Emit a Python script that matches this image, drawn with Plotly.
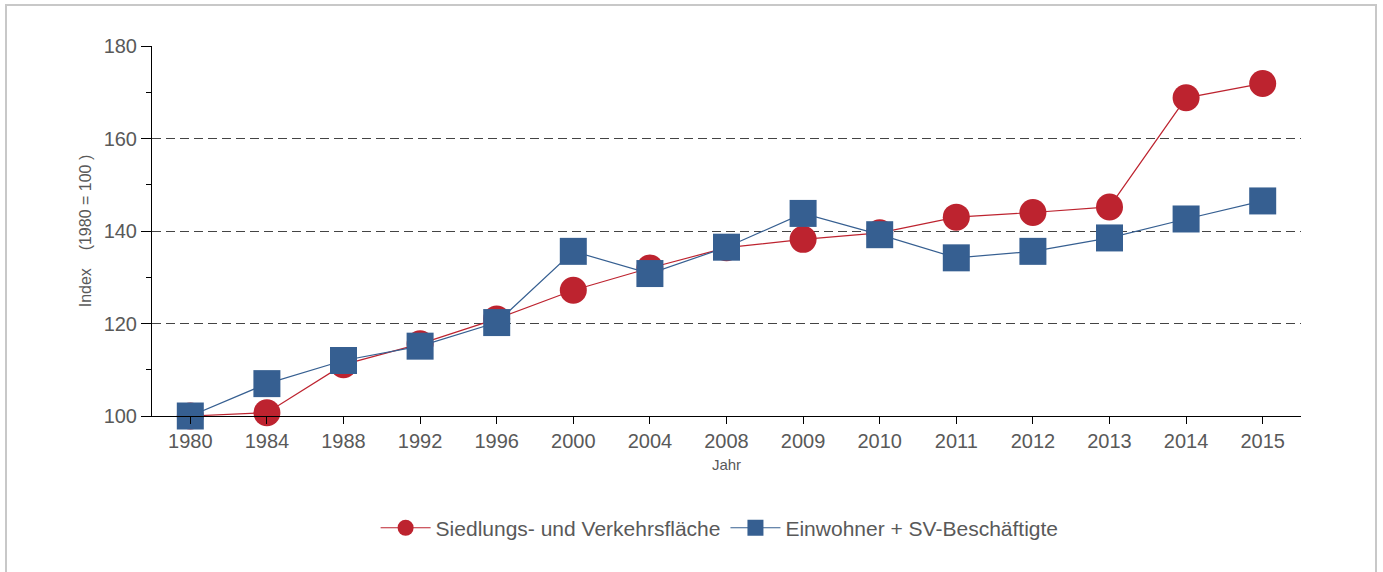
import plotly.graph_objects as go

# ---- data ----
years = ["1980", "1984", "1988", "1992", "1996", "2000", "2004", "2008",
         "2009", "2010", "2011", "2012", "2013", "2014", "2015"]
siedlung = [100.0, 100.7, 111.1, 115.6, 121.0, 127.2, 132.0, 136.4,
            138.2, 139.6, 143.0, 144.0, 145.2, 168.8, 171.9]
einwohner = [100.0, 107.0, 112.0, 115.1, 120.2, 135.6, 130.8, 136.5,
             143.8, 139.2, 134.2, 135.6, 138.5, 142.6, 146.5]
series_names = ["Siedlungs- und Verkehrsfläche", "Einwohner + SV-Beschäftigte"]
y_range = [100, 180]

RED = "#BD232F"
BLUE = "#365F91"
TXT = "#595959"
FONT = "Liberation Sans, Arial, sans-serif"

n = len(years)
x_range = [-0.5, n - 0.5]

fig = go.Figure()
fig.add_trace(go.Scatter(
    x=years, y=siedlung, mode="lines+markers", name=series_names[0],
    line=dict(color=RED, width=1.2),
    marker=dict(symbol="circle", size=27, color=RED, line=dict(width=0)),
    cliponaxis=False,
))
fig.add_trace(go.Scatter(
    x=years, y=einwohner, mode="lines+markers", name=series_names[1],
    line=dict(color=BLUE, width=1.2),
    marker=dict(symbol="square", size=27, color=BLUE, line=dict(width=0)),
    cliponaxis=False,
))

fig.update_layout(
    width=1383, height=572,
    margin=dict(l=152, r=82, t=46, b=156),
    paper_bgcolor="white", plot_bgcolor="white",
    font=dict(family=FONT, color=TXT),
    showlegend=True,
    legend=dict(orientation="h", x=0.494, xanchor="center", y=-0.303, yanchor="middle",
                font=dict(size=21, color=TXT), itemsizing="trace", itemwidth=50,
                bgcolor="rgba(0,0,0,0)"),
    xaxis=dict(
        type="category", range=x_range, showline=True, linecolor="black", linewidth=1,
        ticks="outside", ticklen=7, tickcolor="black", tickwidth=1,
        tickfont=dict(size=20, color=TXT), showgrid=False, zeroline=False,
        title=dict(text="Jahr", font=dict(size=15, color=TXT), standoff=8),
    ),
    xaxis2=dict(
        overlaying="x", anchor="y", side="bottom", range=x_range, type="linear",
        tickmode="linear", tick0=0, dtick=1, ticks="inside", ticklen=7,
        tickcolor="black", tickwidth=1, showticklabels=False, showline=False,
        showgrid=False, zeroline=False,
    ),
    xaxis3=dict(
        overlaying="x", anchor="y", side="top", range=x_range, type="linear",
        ticks="", showticklabels=False, showline=True, linecolor="#777777",
        linewidth=1, showgrid=False, zeroline=False,
    ),
    yaxis=dict(
        range=y_range, tickmode="linear", tick0=100, dtick=20,
        ticks="outside", ticklen=10, tickcolor="black", tickwidth=1,
        minor=dict(ticks="outside", ticklen=5, tickcolor="black", dtick=10, tick0=100, showgrid=False),
        showline=True, linecolor="black", linewidth=1,
        showgrid=True, gridcolor="#444444", gridwidth=1, griddash="9px,5px",
        zeroline=False, tickfont=dict(size=20, color=TXT),
        title=dict(text="Index\u00a0\u00a0\u00a0\u00a0(1980 = 100\u00a0)",
                   font=dict(size=16, color=TXT), standoff=8),
    ),
    yaxis2=dict(
        overlaying="y", anchor="x", side="left", range=y_range,
        tickmode="linear", tick0=100, dtick=20, ticks="inside", ticklen=11,
        tickcolor="black", tickwidth=1,
        minor=dict(ticks="inside", ticklen=6, tickcolor="black", dtick=10, tick0=100, showgrid=False),
        showticklabels=False, showline=False, showgrid=False, zeroline=False,
    ),
    yaxis3=dict(
        overlaying="y", anchor="x", side="right", range=y_range,
        ticks="", showticklabels=False, showline=True, linecolor="#777777",
        linewidth=1, showgrid=False, zeroline=False,
    ),
    shapes=[dict(
        type="rect", xref="paper", yref="paper",
        x0=(6 - 152) / 1149, x1=(1376 - 152) / 1149,
        y0=(416 - 600) / 370, y1=(416 - 5) / 370,
        line=dict(color="#C8C8C8", width=2), fillcolor="rgba(0,0,0,0)", layer="below",
    )],
)

fig.write_html("out.html", config={"displayModeBar": False},
               post_script="document.body.style.margin='0';")
